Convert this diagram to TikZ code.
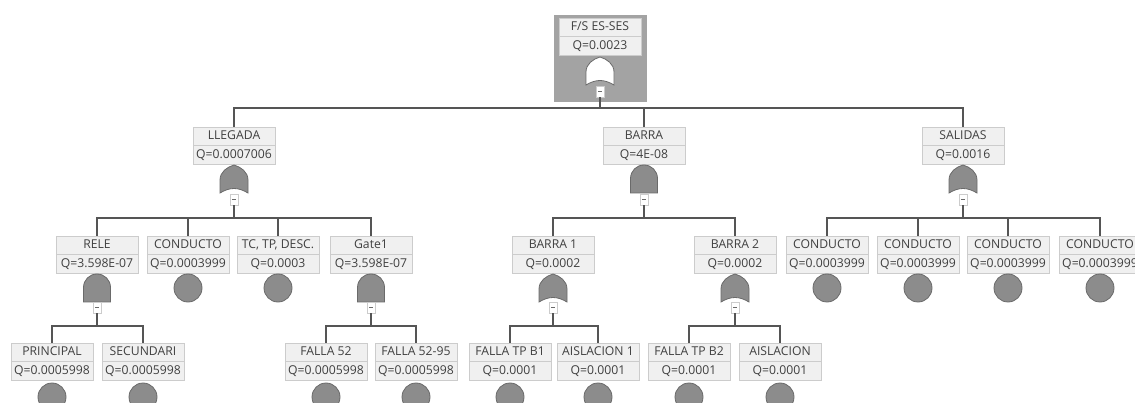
\documentclass[tikz,border=0pt]{standalone}
\usepackage{fontspec}
\setmainfont{Open Sans}
\definecolor{linec}{HTML}{555555}
\definecolor{boxfill}{HTML}{F0F0F0}
\definecolor{boxdraw}{HTML}{CCCCCC}
\definecolor{gatefill}{HTML}{8C8C8C}
\definecolor{gatedraw}{HTML}{6A6A6A}
\definecolor{txt}{HTML}{404040}
\definecolor{topbg}{HTML}{A3A3A3}
\tikzset{
  evbox/.style={draw=boxdraw, fill=boxfill, minimum width=82pt, minimum height=37pt,
    inner sep=0pt, align=center, font=\fontsize{12.2}{18.5}\selectfont, text=txt, anchor=north},
  conn/.style={draw=linec, line width=2pt},
  basic/.style={circle, draw=gatedraw, fill=gatefill, minimum size=28pt, inner sep=0pt, line width=0.8pt},
  minusbox/.style={draw=boxdraw, fill=white, minimum width=8pt, minimum height=11pt, inner sep=0pt,
    path picture={\draw[gatedraw, line width=0.6pt] ([xshift=-2pt]path picture bounding box.center) -- ([xshift=2pt]path picture bounding box.center);}},
  gatestyle/.style={draw=gatedraw, fill=gatefill, line width=0.8pt},
  pics/orgate/.style={code={
    \path[pic actions] (-14,28) -- (-14,15) .. controls (-14,7) and (-7,2) .. (0,0)
      .. controls (7,2) and (14,7) .. (14,15) -- (14,28) .. controls (4,22) and (-4,22) .. (-14,28) -- cycle;}},
  pics/andgate/.style={code={
    \path[pic actions] (-13.5,28) -- (-13.5,13.5) .. controls (-13.5,6) and (-7.5,0) .. (0,0)
      .. controls (7.5,0) and (13.5,6) .. (13.5,13.5) -- (13.5,28) -- cycle;}},
}
\newcommand\evnode[4]{%
  \node[evbox] (#1) at (#2,#3) {#4};
  \draw[boxdraw, line width=0.5pt] (#1.west) -- (#1.east);}
\begin{document}
\begin{tikzpicture}[x=1pt, y=-1pt]
\useasboundingbox (0,0) rectangle (1135,403);
\clip (0,0) rectangle (1135,403);
\coordinate (bus1) at (0,108);
\coordinate (bus2) at (0,218);
\coordinate (bus3) at (0,326);

% top event
\node[fill=topbg, minimum width=93pt, minimum height=87pt, inner sep=0pt, anchor=north] (topbox) at (600,15) {};
\evnode{top}{600}{18}{F/S ES-SES\\Q=0.0023}
\pic[draw=gatedraw, fill=white, line width=0.8pt] at (600,57) {orgate};
\node[minusbox] (topM) at (600,91.5) {};

% level 1
\evnode{llegada}{234}{127}{LLEGADA\\Q=0.0007006}
\pic[gatestyle] at (234,165) {orgate};
\node[minusbox] (llegadaM) at (234,199.5) {};

\evnode{barra}{644}{127}{BARRA\\Q=4E-08}
\pic[gatestyle] at (644,165) {andgate};
\node[minusbox] (barraM) at (644,199.5) {};

\evnode{salidas}{963}{127}{SALIDAS\\Q=0.0016}
\pic[gatestyle] at (963,165) {orgate};
\node[minusbox] (salidasM) at (963,199.5) {};

% level 2
\evnode{rele}{97}{236}{RELE\\Q=3.598E-07}
\pic[gatestyle] at (97,274) {andgate};
\node[minusbox] (releM) at (97,307.5) {};

\evnode{cond1}{188}{236}{CONDUCTO\\Q=0.0003999}
\node[basic] (cond1c) at (188,288) {};

\evnode{tctp}{278}{236}{TC, TP, DESC.\\Q=0.0003}
\node[basic] (tctpc) at (278,288) {};

\evnode{gate1}{371}{236}{Gate1\\Q=3.598E-07}
\pic[gatestyle] at (371,274) {andgate};
\node[minusbox] (gate1M) at (371,307.5) {};

\evnode{barra1}{553}{236}{BARRA 1\\Q=0.0002}
\pic[gatestyle] at (553,274) {orgate};
\node[minusbox] (barra1M) at (553,307.5) {};

\evnode{barra2}{735}{236}{BARRA 2\\Q=0.0002}
\pic[gatestyle] at (735,274) {orgate};
\node[minusbox] (barra2M) at (735,307.5) {};

\evnode{cond2}{827}{236}{CONDUCTO\\Q=0.0003999}
\node[basic] (cond2c) at (827,288) {};
\evnode{cond3}{918}{236}{CONDUCTO\\Q=0.0003999}
\node[basic] (cond3c) at (918,288) {};
\evnode{cond4}{1008}{236}{CONDUCTO\\Q=0.0003999}
\node[basic] (cond4c) at (1008,288) {};
\evnode{cond5}{1100}{236}{CONDUCTO\\Q=0.0003999}
\node[basic] (cond5c) at (1100,288) {};

% level 3
\evnode{principal}{52}{343}{PRINCIPAL\\Q=0.0005998}
\node[basic] (principalc) at (52,397) {};
\evnode{secundari}{143}{343}{SECUNDARI\\Q=0.0005998}
\node[basic] (secundaric) at (143,397) {};
\evnode{falla52}{326}{343}{FALLA 52\\Q=0.0005998}
\node[basic] (falla52c) at (326,397) {};
\evnode{falla5295}{416}{343}{FALLA 52-95\\Q=0.0005998}
\node[basic] (falla5295c) at (416,397) {};
\evnode{tpb1}{510}{343}{FALLA TP B1\\Q=0.0001}
\node[basic] (tpb1c) at (510,397) {};
\evnode{ais1}{598}{343}{AISLACION 1\\Q=0.0001}
\node[basic] (ais1c) at (598,397) {};
\evnode{tpb2}{689}{343}{FALLA TP B2\\Q=0.0001}
\node[basic] (tpb2c) at (689,397) {};
\evnode{ais2}{780}{343}{AISLACION\\Q=0.0001}
\node[basic] (ais2c) at (780,397) {};

% connectors
\foreach \c in {llegada, barra, salidas}
  \draw[conn] (topM.south) -- (topM.south |- bus1) -| (\c.north);
\foreach \c in {rele, cond1, tctp, gate1}
  \draw[conn] (llegadaM.south) -- (llegadaM.south |- bus2) -| (\c.north);
\foreach \c in {barra1, barra2}
  \draw[conn] (barraM.south) -- (barraM.south |- bus2) -| (\c.north);
\foreach \c in {cond2, cond3, cond4, cond5}
  \draw[conn] (salidasM.south) -- (salidasM.south |- bus2) -| (\c.north);
\foreach \c in {principal, secundari}
  \draw[conn] (releM.south) -- (releM.south |- bus3) -| (\c.north);
\foreach \c in {falla52, falla5295}
  \draw[conn] (gate1M.south) -- (gate1M.south |- bus3) -| (\c.north);
\foreach \c in {tpb1, ais1}
  \draw[conn] (barra1M.south) -- (barra1M.south |- bus3) -| (\c.north);
\foreach \c in {tpb2, ais2}
  \draw[conn] (barra2M.south) -- (barra2M.south |- bus3) -| (\c.north);
\end{tikzpicture}
\end{document}
